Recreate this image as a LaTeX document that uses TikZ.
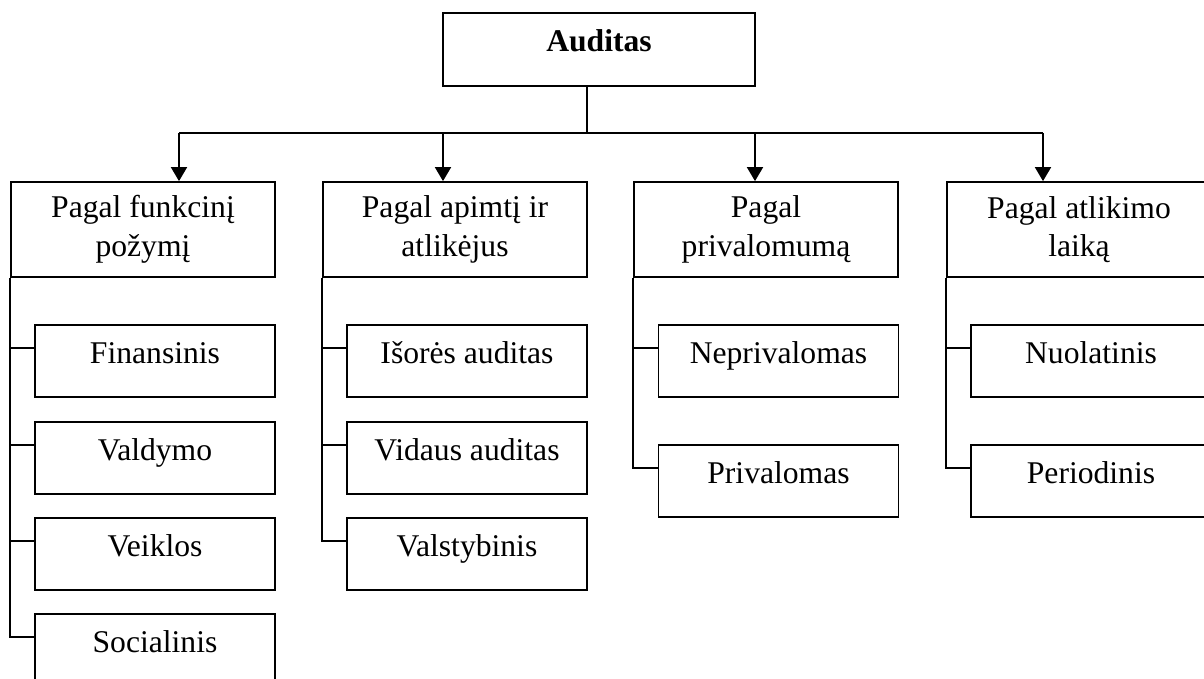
\documentclass[tikz,border=0pt]{standalone}
\usepackage{fontspec}
\setmainfont{Liberation Serif}
\usetikzlibrary{arrows.meta,calc}

\begin{document}
\begin{tikzpicture}[x=0.02cm, y=-0.02cm, line width=1pt,
  box/.style={draw, inner sep=0pt, align=center, font=\fontsize{18}{22}\selectfont},
  topbox/.style={box, minimum width=6.24cm, minimum height=1.46cm, text height=0.7em, text depth=0.45em, font=\fontsize{18}{22}\selectfont\bfseries},
  groupbox/.style={box, minimum width=5.28cm, minimum height=1.9cm},
  itembox/.style={box, minimum width=4.8cm, minimum height=1.45cm, text height=0.7em, text depth=0.45em},
  arr/.style={-{Triangle[length=0.28cm, width=0.32cm]}}]
\clip (0,0) rectangle (1204,679);

\node[topbox] (audit) at (599,49.5) {Auditas};

\node[groupbox] (g1) at (143,229.5) {Pagal funkcinį\\požymį};
\node[groupbox] (g2) at (455,229.5) {Pagal apimtį ir\\atlikėjus};
\node[groupbox] (g3) at (766,229.5) {Pagal\\privalomumą};
\node[groupbox] (g4) at (1079,229.5) {Pagal atlikimo\\laiką};

\node[itembox] (f1) at (155,361) {Finansinis};
\node[itembox] (f2) at (155,458) {Valdymo};
\node[itembox] (f3) at (155,554) {Veiklos};
\node[itembox] (f4) at (155,650) {Socialinis};

\node[itembox] (a1) at (467,361) {Išorės auditas};
\node[itembox] (a2) at (467,458) {Vidaus auditas};
\node[itembox] (a3) at (467,554) {Valstybinis};

\node[itembox] (p1) at (778.5,361) {Neprivalomas};
\node[itembox] (p2) at (778.5,481) {Privalomas};

\node[itembox] (l1) at (1091,361) {Nuolatinis};
\node[itembox] (l2) at (1091,481) {Periodinis};

\coordinate (hub) at (587,133);
\coordinate (t1) at (179,133);
\coordinate (t2) at (443,133);
\coordinate (t3) at (755,133);
\coordinate (t4) at (1043,133);

\draw (audit.south -| hub) -- (hub);
\draw (t1) -- (t4);
\draw[arr] (t1) -- (t1 |- g1.north);
\draw[arr] (t2) -- (t2 |- g2.north);
\draw[arr] (t3) -- (t3 |- g3.north);
\draw[arr] (t4) -- (t4 |- g4.north);

\draw (g1.south west) |- ($(f4.north west)+(0,24)$);
\draw ($(f1.north west)+(0,24)$) -- ++(-24,0);
\draw ($(f2.north west)+(0,24)$) -- ++(-24,0);
\draw ($(f3.north west)+(0,24)$) -- ++(-24,0);

\draw (g2.south west) |- ($(a3.north west)+(0,24)$);
\draw ($(a1.north west)+(0,24)$) -- ++(-24,0);
\draw ($(a2.north west)+(0,24)$) -- ++(-24,0);

\draw (g3.south west) |- ($(p2.north west)+(0,24)$);
\draw ($(p1.north west)+(0,24)$) -- ++(-24,0);

\draw (g4.south west) |- ($(l2.north west)+(0,24)$);
\draw ($(l1.north west)+(0,24)$) -- ++(-24,0);

\end{tikzpicture}
\end{document}
